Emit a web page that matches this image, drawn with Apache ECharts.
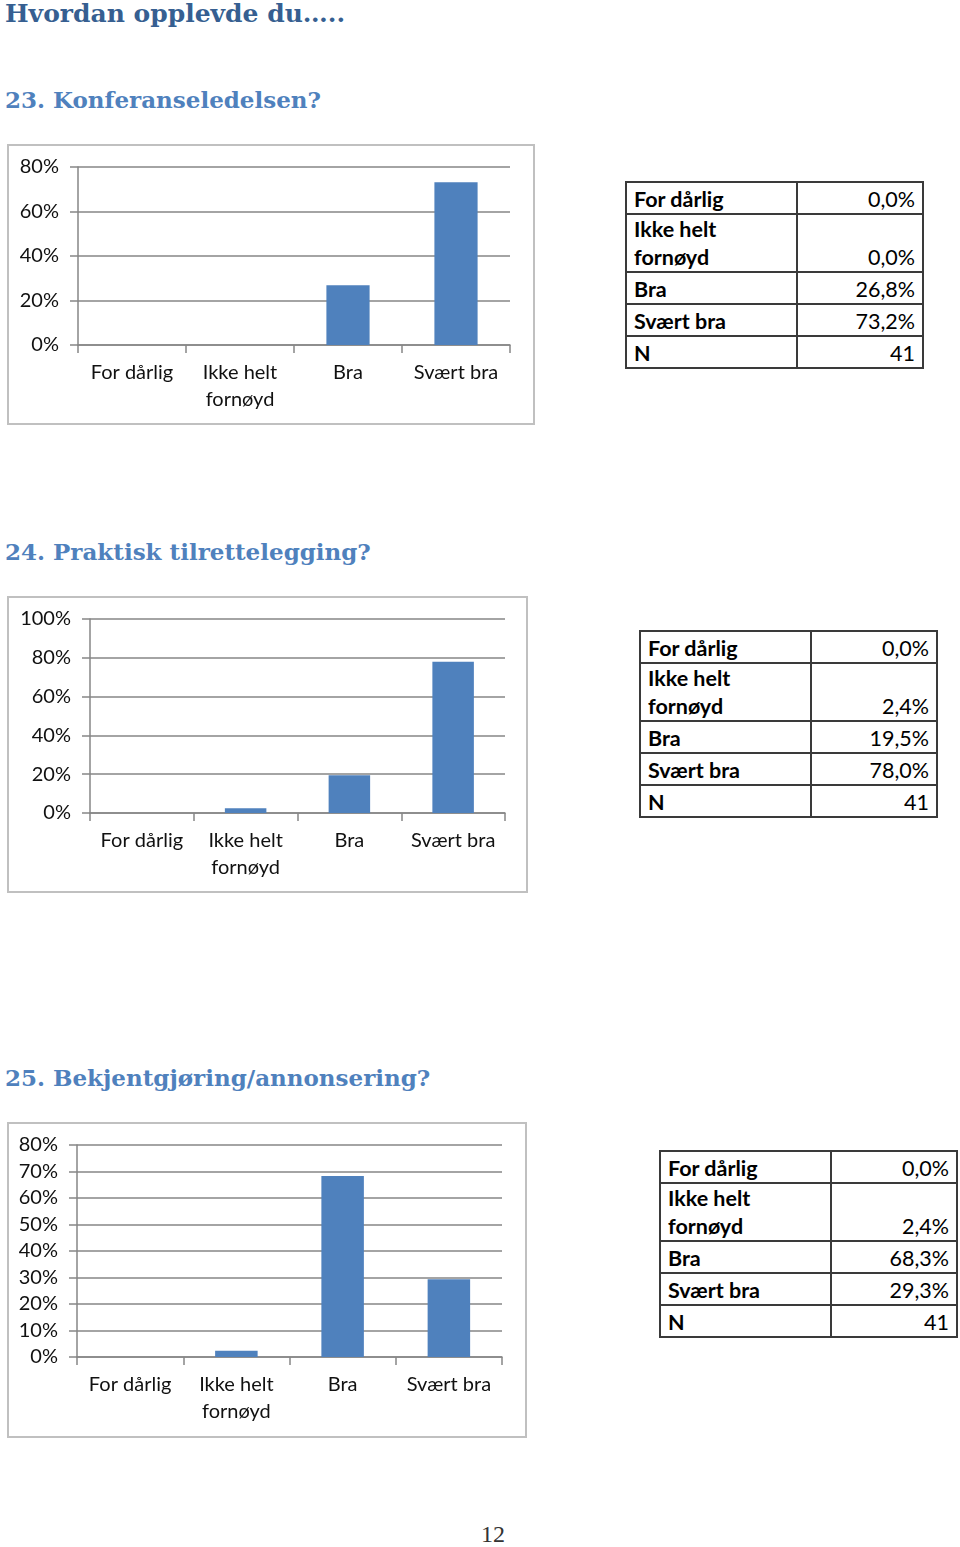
<!DOCTYPE html>
<html>
<head>
<meta charset="utf-8">
<script src="https://cdn.jsdelivr.net/npm/echarts@6/dist/echarts.min.js"></script>
<style>
  html, body { margin: 0; padding: 0; background: #fff; }
  body { width: 960px; height: 1547px; position: relative; overflow: hidden; }
  .h1 { position: absolute; left: 5px; top: -1px; font-family: "DejaVu Serif", serif; font-weight: bold;
        font-size: 25px; color: #365F91; white-space: nowrap; }
  .h2 { position: absolute; left: 5px; font-family: "DejaVu Serif", serif; font-weight: bold;
        font-size: 23px; color: #4F81BD; white-space: nowrap; }
  .box { position: absolute; border: 2px solid #c0c0c0; box-sizing: border-box; }
  .box > div { width: 100%; height: 100%; }
  table.tbl { position: absolute; border-collapse: collapse; font-family: Lato, sans-serif; font-size: 21.5px;
              color: #000; width: 299px; }
  table.tbl td { border: 2px solid #3a3a3a; padding: 0 7px 0 7px; vertical-align: bottom; line-height: 28px; }
  table.tbl tr { height: 32px; }
  table.tbl tr.tall { height: 58px; }
  table.tbl td.lab { font-weight: bold; width: 155px; }
  table.tbl td.val { text-align: right; }
  .page { position: absolute; left: 481px; top: 1521px; font-family: "Liberation Serif", serif; font-size: 24px; color: #333; }
</style>
</head>
<body>
<div class="h1">Hvordan opplevde du…..</div>

<div class="h2" style="top:86px">23. Konferanseledelsen?</div>
<div class="box" style="left:7px;top:144px;width:528px;height:281px"><div id="c23"></div></div>
<table class="tbl" id="t23" style="left:625px;top:181px"></table>

<div class="h2" style="top:538px">24. Praktisk tilrettelegging?</div>
<div class="box" style="left:7px;top:596px;width:521px;height:297px"><div id="c24"></div></div>
<table class="tbl" id="t24" style="left:639px;top:630px"></table>

<div class="h2" style="top:1064px">25. Bekjentgjøring/annonsering?</div>
<div class="box" style="left:7px;top:1122px;width:520px;height:316px"><div id="c25"></div></div>
<table class="tbl" id="t25" style="left:659px;top:1150px"></table>

<div class="page">12</div>

<script>
// svaralternativer
const categories = ['For dårlig', 'Ikke helt\nfornøyd', 'Bra', 'Svært bra'];

// 23. Konferanseledelsen
const values23 = [0, 0, 26.8, 73.2];
const n23 = 41;
const yMax23 = 80, yStep23 = 20;

// 24. Praktisk tilrettelegging
const values24 = [0, 2.4, 19.5, 78.0];
const n24 = 41;
const yMax24 = 100, yStep24 = 20;

// 25. Bekjentgjøring/annonsering
const values25 = [0, 2.4, 68.3, 29.3];
const n25 = 41;
const yMax25 = 80, yStep25 = 10;

const gray = '#868686';

function makeOption(values, max, step, grid) {
    return {
        animation: false,
        grid: grid,
        xAxis: {
            type: 'category',
            data: categories,
            axisLine: { lineStyle: { color: gray, width: 1.5 } },
            axisTick: { show: true, length: 8, lineStyle: { color: gray, width: 1.5 } },
            axisLabel: { interval: 0, fontFamily: 'Lato', fontSize: 20, color: '#111', margin: 14, lineHeight: 27 }
        },
        yAxis: {
            type: 'value',
            min: 0,
            max: max,
            interval: step,
            axisLine: { show: true, lineStyle: { color: gray, width: 1.5 } },
            axisTick: { show: true, length: 8, lineStyle: { color: gray, width: 1.5 } },
            splitLine: { lineStyle: { color: gray, width: 1.5 } },
            axisLabel: { formatter: '{value}%', fontFamily: 'Lato', fontSize: 20, color: '#111', margin: 19 }
        },
        series: [{
            type: 'bar',
            data: values,
            barWidth: '40%',
            itemStyle: { color: '#4F81BD' }
        }]
    };
}

function fmt(v) {
    return v.toFixed(1).replace('.', ',') + '%';
}

function fillTable(id, values, n) {
    let html = '';
    categories.forEach((c, i) => {
        const tall = c.indexOf('\n') >= 0;
        html += '<tr' + (tall ? ' class="tall"' : '') + '><td class="lab">' + c.replace('\n', '<br>') +
            '</td><td class="val">' + fmt(values[i]) + '</td></tr>';
    });
    html += '<tr><td class="lab">N</td><td class="val">' + n + '</td></tr>';
    document.getElementById(id).innerHTML = html;
}

const chart23 = echarts.init(document.getElementById('c23'));
chart23.setOption(makeOption(values23, yMax23, yStep23, { left: 69, right: 23, top: 21, bottom: 78 }));

const chart24 = echarts.init(document.getElementById('c24'));
chart24.setOption(makeOption(values24, yMax24, yStep24, { left: 81, right: 21, top: 21, bottom: 78 }));

const chart25 = echarts.init(document.getElementById('c25'));
chart25.setOption(makeOption(values25, yMax25, yStep25, { left: 68, right: 23, top: 21, bottom: 79 }));

fillTable('t23', values23, n23);
fillTable('t24', values24, n24);
fillTable('t25', values25, n25);
</script>
</body>
</html>
